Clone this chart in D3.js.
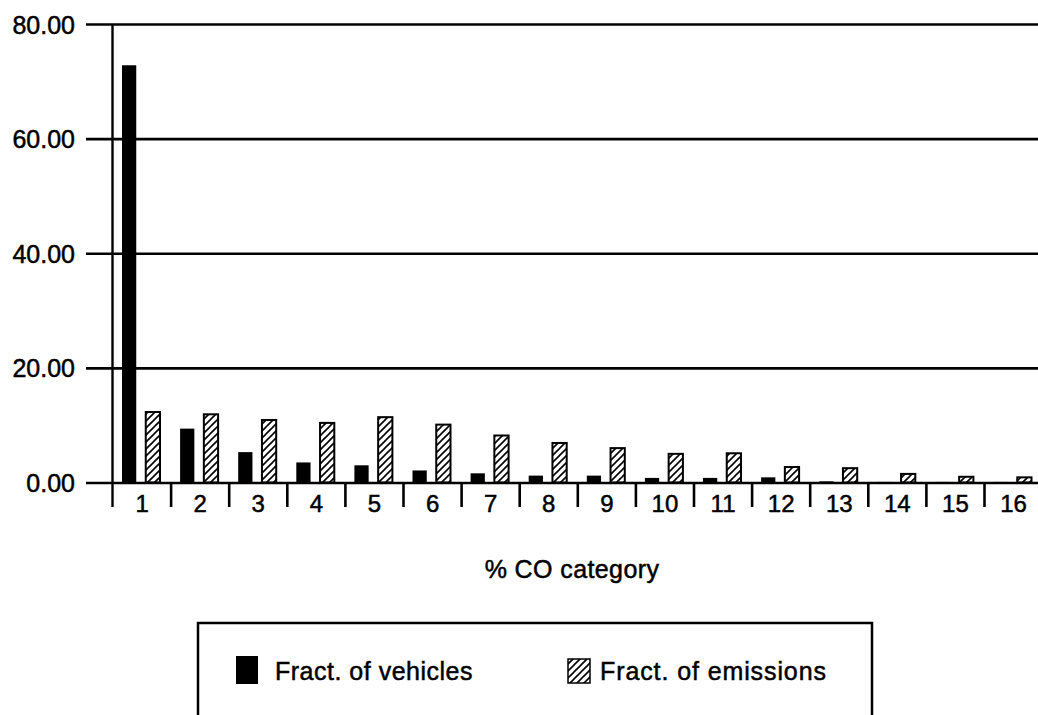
<!DOCTYPE html>
<html>
<head>
<meta charset="utf-8">
<script src="https://cdn.jsdelivr.net/npm/d3@7"></script>
<style>
  body { margin: 0; background: #fff; }
  svg { display: block; }
  svg text { font-family: "Liberation Sans", Arial, Helvetica, sans-serif; stroke: #000; stroke-width: 0.5px; fill: #000; }
</style>
</head>
<body>
<div id="container"></div>
<script>
/* DATA */
const categories = ["1","2","3","4","5","6","7","8","9","10","11","12","13","14","15","16"];
const fractVehicles  = [72.8, 9.4, 5.3, 3.5, 3.0, 2.1, 1.6, 1.2, 1.2, 0.8, 0.8, 0.9, 0.2, 0.1, 0.1, 0.1];
const fractEmissions = [12.3, 11.9, 10.9, 10.4, 11.4, 10.1, 8.2, 6.9, 6.0, 5.0, 5.1, 2.7, 2.5, 1.5, 1.0, 0.9];
const yTicks = [0, 20, 40, 60, 80];
const seriesNames = ["Fract. of vehicles", "Fract. of emissions"];

const width = 1038, height = 715;

const svg = d3.select("#container")
  .append("svg")
  .attr("width", width)
  .attr("height", height);

// hatch pattern for emissions
const defs = svg.append("defs");
defs.append("pattern")
    .attr("id", "hatch")
    .attr("patternUnits", "userSpaceOnUse")
    .attr("width", 7)
    .attr("height", 7)
  .append("path")
    .attr("d", "M-1,1 l2,-2 M0,7 l7,-7 M6,8 l2,-2")
    .attr("stroke", "#000")
    .attr("stroke-width", 1.6);

/* SCALES */
const xScale = d3.scaleBand()
  .domain(categories)
  .range([113, 113 + 16 * 58.1])
  .paddingInner(0);

const xInner = d3.scaleBand()
  .domain(["v", "e"])
  .range([9, 47])
  .paddingInner(0.4);

const yScale = d3.scaleLinear()
  .domain([0, 80])
  .range([482.5, 24]);

// gridlines + y labels
const yAxis = d3.axisLeft(yScale)
  .tickValues(yTicks)
  .tickFormat(d3.format(".2f"))
  .tickSize(-(width - 86))
  .tickPadding(11);

const yAxisGroup = svg.append("g")
  .attr("transform", `translate(86,0)`)
  .call(yAxis);
yAxisGroup.select(".domain").remove();
yAxisGroup.selectAll("line").attr("stroke", "#000").attr("stroke-width", 2.6);
yAxisGroup.selectAll("text")
  .style("font-size", "25px")
  .attr("dy", "0.36em");

// y axis vertical line
svg.append("line")
  .attr("x1", 112.5).attr("x2", 112.5)
  .attr("y1", yScale(80)).attr("y2", 507)
  .attr("stroke", "#000").attr("stroke-width", 2.4);

// category separators
svg.selectAll(".sep")
  .data(categories.slice(1))
  .join("line")
  .attr("class", "sep")
  .attr("x1", d => xScale(d)).attr("x2", d => xScale(d))
  .attr("y1", yScale(0)).attr("y2", 507)
  .attr("stroke", "#000").attr("stroke-width", 2.6);

// category labels
const xAxis = d3.axisBottom(xScale).tickSize(0).tickPadding(12);
const xAxisGroup = svg.append("g")
  .attr("transform", `translate(0, ${yScale(0)})`)
  .call(xAxis);
xAxisGroup.select(".domain").remove();
xAxisGroup.selectAll("text")
  .style("font-size", "24px");

// bars
const rows = categories.map((c, i) => ({cat: c, v: fractVehicles[i], e: fractEmissions[i]}));

svg.selectAll(".bar-v")
  .data(rows)
  .join("rect")
  .attr("class", "bar-v")
  .attr("x", d => xScale(d.cat) + xInner("v"))
  .attr("width", xInner.bandwidth())
  .attr("y", d => yScale(d.v))
  .attr("height", d => yScale(0) - yScale(d.v))
  .attr("fill", "#000");

svg.selectAll(".bar-e")
  .data(rows)
  .join("rect")
  .attr("class", "bar-e")
  .attr("x", d => xScale(d.cat) + xInner("e"))
  .attr("width", xInner.bandwidth())
  .attr("y", d => yScale(d.e))
  .attr("height", d => yScale(0) - yScale(d.e))
  .attr("fill", "url(#hatch)")
  .attr("stroke", "#000")
  .attr("stroke-width", 2);

// x title
svg.append("text")
  .attr("x", 572)
  .attr("y", 578)
  .attr("text-anchor", "middle")
  .style("font-size", "25px")
  .style("letter-spacing", "0.4px")
  .text("% CO category");

// legend
const legend = svg.append("g");
legend.append("rect")
  .attr("x", 198).attr("y", 623)
  .attr("width", 674).attr("height", 120)
  .attr("fill", "none")
  .attr("stroke", "#000")
  .attr("stroke-width", 2.5);

legend.append("rect")
  .attr("x", 236).attr("y", 656)
  .attr("width", 22).attr("height", 28)
  .attr("fill", "#000");
legend.append("text")
  .attr("x", 275).attr("y", 680)
  .style("font-size", "25px")
  .style("letter-spacing", "0.5px")
  .text(seriesNames[0]);

legend.append("rect")
  .attr("x", 568).attr("y", 659)
  .attr("width", 22).attr("height", 24)
  .attr("fill", "url(#hatch)")
  .attr("stroke", "#000")
  .attr("stroke-width", 1.5);
legend.append("text")
  .attr("x", 600).attr("y", 680)
  .style("font-size", "25px")
  .style("letter-spacing", "0.9px")
  .text(seriesNames[1]);
</script>
</body>
</html>
